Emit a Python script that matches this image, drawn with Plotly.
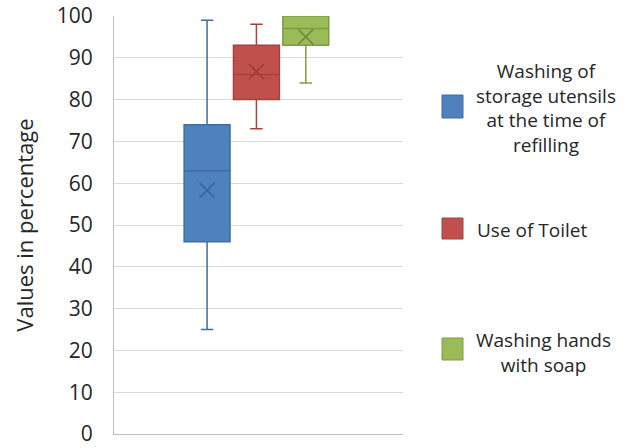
import plotly.graph_objects as go

# Summary statistics per hygiene practice (percent)
practices = [
    "Washing of<br>storage utensils<br>at the time of<br>refilling",
    "Use of Toilet",
    "Washing hands<br>with soap",
]
minimum = [25.0, 73.0, 84.0]
q1 = [46.0, 80.0, 93.0]
median = [63.0, 86.0, 97.0]
q3 = [74.0, 93.0, 100.0]
maximum = [99.0, 98.0, 100.0]
mean = [58.3, 86.7, 95.0]

fills = ["#4F81BD", "#C0504D", "#9BBB59"]
edges = ["#3E6DA6", "#A8403D", "#7E9C45"]
marks = ["#36649A", "#9A3A37", "#6F8C3B"]

W, H = 633, 448
L, R, T, B = 114, 403, 16, 434  # plot area in pixels

def px(x):
    return (x - L) / (R - L)

def py(y):
    return (B - y) / (B - T)

fig = go.Figure()
for i, name in enumerate(practices):
    fig.add_trace(go.Box(
        x=[i], q1=[q1[i]], median=[median[i]], q3=[q3[i]],
        lowerfence=[minimum[i]], upperfence=[maximum[i]],
        width=0.93, whiskerwidth=0.27,
        fillcolor=fills[i], line=dict(color=edges[i], width=1.5),
        name=name, showlegend=False, hoverinfo="skip",
    ))
    fig.add_trace(go.Scatter(
        x=[i], y=[mean[i]], mode="markers",
        marker=dict(symbol="x-thin-open", size=15, color=marks[i],
                    line=dict(color=marks[i], width=1.5)),
        showlegend=False, hoverinfo="skip",
    ))

font = "'Open Sans', sans-serif"

# Hand-placed legend: swatch plus centred caption
legend_items = [
    (95, 118, 546, 107.5, "center"),
    (218, 239, 475, 230, "left"),
    (338, 360, 543.5, 352, "center"),
]
for i, (y0, y1, tx, ty, anchor) in enumerate(legend_items):
    fig.add_shape(type="rect", xref="paper", yref="paper",
                  x0=px(442), x1=px(463), y0=py(y1), y1=py(y0),
                  fillcolor=fills[i], line=dict(color=edges[i], width=1))
    fig.add_annotation(xref="paper", yref="paper", x=px(tx), y=py(ty),
                       xanchor=anchor, yanchor="middle", align="center",
                       text=practices[i], showarrow=False,
                       font=dict(family=font, size=19, color="#262626"))

fig.update_layout(
    width=W, height=H,
    margin=dict(l=L, r=W - R, t=T, b=H - B, autoexpand=False),
    paper_bgcolor="white", plot_bgcolor="white",
    font=dict(family=font, color="#262626"),
    xaxis=dict(range=[-1.886, 3.97], showticklabels=False, showgrid=False,
               zeroline=False, showline=True, linecolor="#BFBFBF", linewidth=1),
    yaxis=dict(range=[0, 100], dtick=10, showgrid=True, gridcolor="#D9D9D9",
               gridwidth=1, zeroline=False, showline=True, linecolor="#BFBFBF",
               linewidth=1, ticklabelstandoff=16, ticklabeloverflow="allow",
               tickfont=dict(family=font, size=21, color="#262626"),
               title=dict(text="Values in percentage", standoff=17,
                          font=dict(family=font, size=22, color="#262626"))),
)

fig.write_html("out.html")
